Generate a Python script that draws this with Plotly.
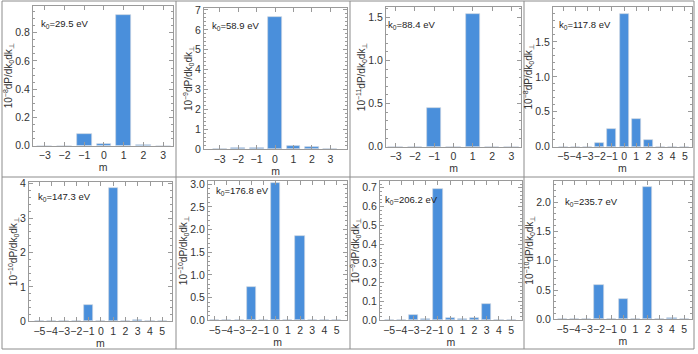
import plotly.graph_objects as go
from plotly.subplots import make_subplots

W, H = 698, 354

# harmonic numbers on the x axis
m_small = [-3, -2, -1, 0, 1, 2, 3]
m_large = [-5, -4, -3, -2, -1, 0, 1, 2, 3, 4, 5]

# photon energy of each panel and the power of ten of its y axis
k0_values = ["29.5", "58.9", "88.4", "117.8", "147.3", "176.8", "206.2", "235.7"]
exponents = ["−8", "−9", "−11", "−8", "−10", "−10", "−9", "−10"]

# dP/dk0dk_perp for every m
p_29_5 = [0, 0, 0.082, 0.011, 0.926, 0.003, 0]
p_58_9 = [0, 0.035, 0.035, 6.66, 0.15, 0.12, 0]
p_88_4 = [0, 0, 0.447, 0, 1.535, 0, 0]
p_117_8 = [0, 0, 0, 0.049, 0.251, 1.90, 0.402, 0.097, 0, 0, 0]
p_147_3 = [0, 0, 0.005, 0, 0.487, 0, 3.88, 0, 0.03, 0, 0]
p_176_8 = [0, 0, 0, 0.74, 0, 3.02, 0, 1.865, 0, 0, 0]
p_206_2 = [0, 0, 0.026, 0.009, 0.695, 0.012, 0.005, 0.012, 0.088, 0, 0]
p_235_7 = [0, 0.01, 0, 0.59, 0, 0.355, 0, 2.25, 0, 0.03, 0]

series = [(m_small, p_29_5), (m_small, p_58_9), (m_small, p_88_4), (m_large, p_117_8),
          (m_large, p_147_3), (m_large, p_176_8), (m_large, p_206_2), (m_large, p_235_7)]

# y tick labels of each panel
yticks = [
    ["0.0", "0.2", "0.4", "0.6", "0.8"],
    ["0", "1", "2", "3", "4", "5", "6", "7"],
    ["0.0", "0.5", "1.0", "1.5"],
    ["0.0", "0.5", "1.0", "1.5"],
    ["0", "1", "2", "3", "4"],
    ["0.0", "0.5", "1.0", "1.5", "2.0", "2.5", "3.0"],
    ["0.0", "0.1", "0.2", "0.3", "0.4", "0.5", "0.6", "0.7"],
    ["0.0", "0.5", "1.0", "1.5", "2.0"],
]
ymax = [0.99, 7.1, 1.62, 2.0, 4.05, 3.07, 0.736, 2.36]
minor = [0.05, 0.2, 0.1, 0.1, 0.2, 0.1, 0.02, 0.1]
xrng = [(-3.6, 3.5), (-3.85, 3.9), (-3.5, 3.5), (-5.85, 5.55),
        (-5.85, 5.75), (-5.55, 5.85), (-5.75, 5.85), (-5.7, 5.6)]

# frame of each panel in pixels: left, right, top, bottom
frames = [
    (33, 173, 6, 145.5), (204, 347, 8, 149), (386, 521, 7, 146.7), (553, 691.5, 7, 146.7),
    (29, 171.5, 182, 321.3), (208, 347, 181, 320.3), (380, 521.5, 181, 320.3), (554, 691.5, 181, 319.3),
]
# position of the k0 label (left edge, vertical centre) in pixels
label_pos = [(39, 24), (210, 25.7), (386, 25), (557, 25), (36, 197), (214, 191), (383, 200), (563, 202)]

bar_color = "#4a8fdb"
frame_color = "#9a9a9a"
text_color = "#333333"
font_family = "Liberation Sans, Arial"

fig = make_subplots(rows=2, cols=4)

for i, (xs, ys) in enumerate(series):
    r, c = i // 4 + 1, i % 4 + 1
    fig.add_trace(go.Bar(x=xs, y=ys, width=0.75, marker_color=bar_color,
                         marker_line=dict(color="#c9d3e0", width=0.7),
                         showlegend=False), row=r, col=c)
    L, R, T, B = frames[i]
    ax = "" if i == 0 else str(i + 1)
    fig.layout["xaxis" + ax].update(
        domain=[L / W, R / W], range=list(xrng[i]), tickvals=xs, tickangle=0,
        ticks="inside", ticklen=4, tickcolor=frame_color, mirror="allticks",
        showline=True, linecolor=frame_color, linewidth=1, showgrid=False, zeroline=False,
        tickfont=dict(size=10.5, color=text_color, family=font_family),
        title=dict(text="m", standoff=3, font=dict(size=10.5, color=text_color, family=font_family)),
        automargin=False)
    tv = [float(t) for t in yticks[i]]
    fig.layout["yaxis" + ax].update(
        domain=[1 - B / H, 1 - T / H], range=[0, ymax[i]], tickvals=tv, ticktext=yticks[i],
        ticks="inside", ticklen=4, tickcolor=frame_color, mirror="allticks",
        minor=dict(dtick=minor[i], ticks="inside", ticklen=2, tickcolor=frame_color),
        showline=True, linecolor=frame_color, linewidth=1, showgrid=False, zeroline=False,
        tickfont=dict(size=10.5, color=text_color, family=font_family),
        title=dict(text="10<sup>" + exponents[i] + "</sup>dP/dk<sub>0</sub>dk<sub>⊥</sub>", standoff=0,
                   font=dict(size=10, color=text_color, family=font_family)),
        automargin=False)
    lx, ly = label_pos[i]
    fig.add_annotation(x=lx / W, y=1 - ly / H, xref="paper", yref="paper", xanchor="left",
                       yanchor="middle", showarrow=False,
                       text="k<sub>0</sub>=" + k0_values[i] + " eV",
                       font=dict(size=9.5, color="#222222", family=font_family))

# grey cell borders
cell_x = [2, 176, 350, 524, 694]
cell_y = [1, 177, 349]
for x in cell_x:
    fig.add_shape(type="line", xref="paper", yref="paper", x0=x / W, x1=x / W,
                  y0=1 - cell_y[0] / H, y1=1 - cell_y[-1] / H, line=dict(color="#8c8c8c", width=1))
for y in cell_y:
    fig.add_shape(type="line", xref="paper", yref="paper", x0=cell_x[0] / W, x1=cell_x[-1] / W,
                  y0=1 - y / H, y1=1 - y / H, line=dict(color="#8c8c8c", width=1))

fig.update_layout(width=W, height=H, margin=dict(l=0, r=0, t=0, b=0),
                  paper_bgcolor="white", plot_bgcolor="white", bargap=0)

# the page's default body margin would shift the figure
fig.write_html("out.html", config={"displayModeBar": False},
               post_script="document.body.style.margin='0';")
